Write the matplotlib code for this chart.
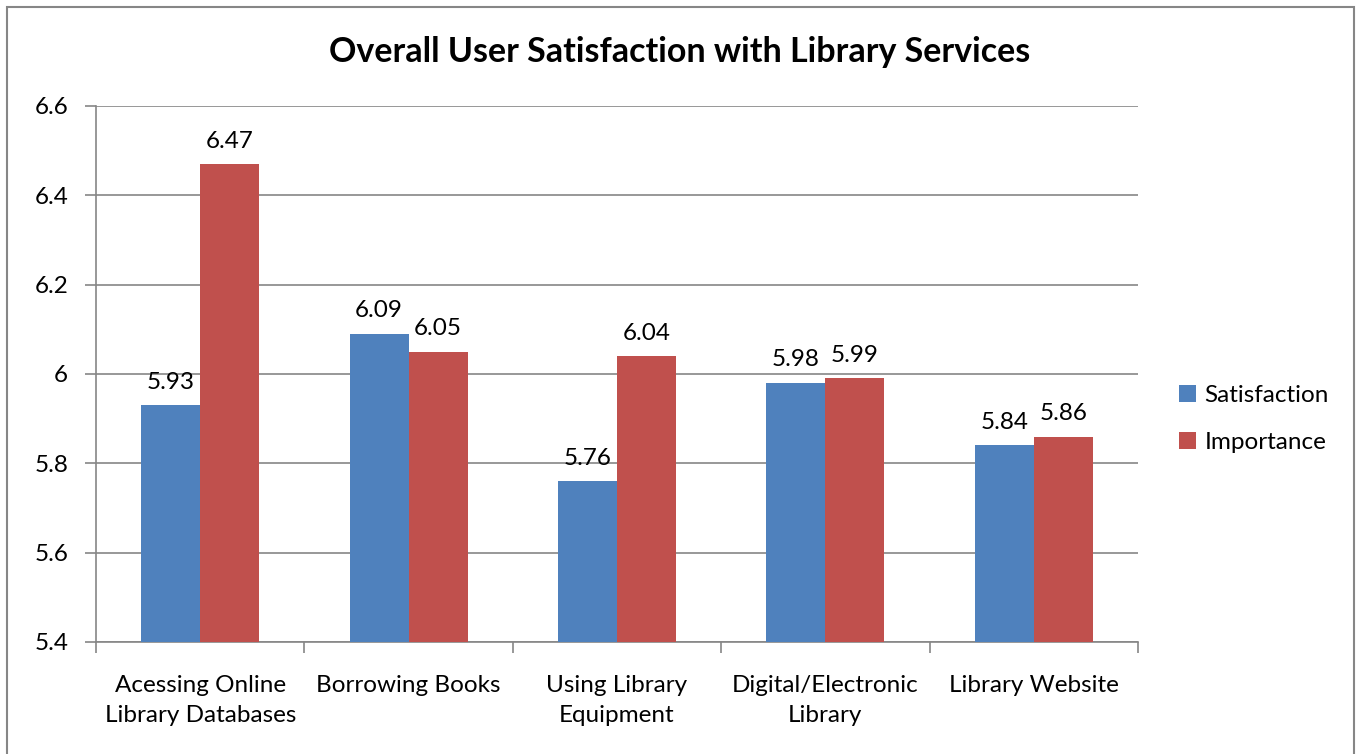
import matplotlib
matplotlib.use("Agg")
import matplotlib.pyplot as plt
import numpy as np
from matplotlib.patches import Rectangle

plt.rcParams['font.family'] = ['Lato', 'DejaVu Sans']

categories = ['Acessing Online\nLibrary Databases', 'Borrowing Books',
              'Using Library\nEquipment', 'Digital/Electronic\nLibrary', 'Library Website']
satisfaction = [5.93, 6.09, 5.76, 5.98, 5.84]
importance = [6.47, 6.05, 6.04, 5.99, 5.86]
yticks = [5.4, 5.6, 5.8, 6.0, 6.2, 6.4, 6.6]
ytick_labels = ['5.4', '5.6', '5.8', '6', '6.2', '6.4', '6.6']

blue = '#4F81BD'
red = '#C0504D'
grid_gray = '#868686'

W, H = 1361, 754
fig = plt.figure(figsize=(W / 100, H / 100), dpi=100)
ax = fig.add_axes([96 / W, 1 - 642 / H, (1138 - 96) / W, (642 - 106) / H])

x = np.arange(len(categories))
bw = 0.283
b1 = ax.bar(x - bw / 2, np.array(satisfaction) - 5.4, bw, bottom=5.4, color=blue, zorder=3)
b2 = ax.bar(x + bw / 2, np.array(importance) - 5.4, bw, bottom=5.4, color=red, zorder=3)

for bars, vals in ((b1, satisfaction), (b2, importance)):
    for bar, v in zip(bars, vals):
        ax.annotate(f'{v:.2f}', (bar.get_x() + bar.get_width() / 2, v),
                    xytext=(0, 9), textcoords='offset points',
                    ha='center', va='bottom', fontsize=17.5)

ax.set_xlim(-0.5, len(categories) - 0.5)
ax.set_ylim(5.4, 6.6)
ax.set_yticks(yticks)
ax.set_yticklabels(ytick_labels, fontsize=17.5)
ax.yaxis.grid(True, color=grid_gray, linewidth=1.2, zorder=0)
ax.set_axisbelow(True)

# category labels centred, tick marks on the boundaries
ax.set_xticks(x)
ax.set_xticklabels(categories, fontsize=17.5, linespacing=1.5)
ax.tick_params(axis='x', length=0, pad=24)
ax.set_xticks(np.arange(-0.5, len(categories)), minor=True)
ax.tick_params(axis='x', which='minor', length=8, color=grid_gray, width=1.2, direction='out')
ax.tick_params(axis='y', length=8, color=grid_gray, width=1.2, direction='out', pad=12)

for side in ('top', 'right'):
    ax.spines[side].set_visible(False)
for side in ('left', 'bottom'):
    ax.spines[side].set_color(grid_gray)
    ax.spines[side].set_linewidth(1.2)

fig.text(680 / W, 1 - 52 / H, 'Overall User Satisfaction with Library Services',
         ha='center', va='center', fontsize=24.5, fontweight='bold')

leg = fig.legend([b1, b2], ['Satisfaction', 'Importance'],
                 loc='center left', bbox_to_anchor=(1157 / W, 1 - 419 / H),
                 frameon=False, fontsize=17.5, handlelength=0.7, handleheight=0.7,
                 handletextpad=0.35, labelspacing=1.05)

fig.patches.append(Rectangle((7 / W, -0.05), (1354 - 7) / W, 1.05 - 7 / H,
                             transform=fig.transFigure, fill=False,
                             edgecolor=grid_gray, linewidth=1.5))

fig.savefig('out.png', dpi=100)
